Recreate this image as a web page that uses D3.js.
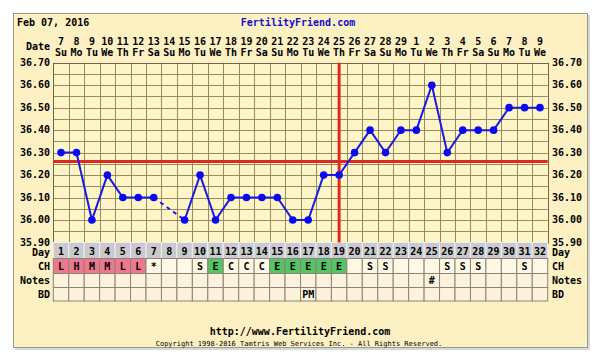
<!DOCTYPE html>
<html><head><meta charset="utf-8">
<script src="https://cdn.jsdelivr.net/npm/d3@7"></script>
<style>
html,body{margin:0;padding:0;background:#fff;}
svg{display:block;font-family:"DejaVu Sans Mono",monospace;font-weight:bold;}
</style></head>
<body><svg id="c" width="600" height="357"></svg>
<script>
const days = d3.range(1, 33);
const dateNums = [7,8,9,10,11,12,13,14,15,16,17,18,19,20,21,22,23,24,25,26,27,28,29,1,2,3,4,5,6,7,8,9];
const weekdays = ["Su","Mo","Tu","We","Th","Fr","Sa","Su","Mo","Tu","We","Th","Fr","Sa","Su","Mo","Tu","We","Th","Fr","Sa","Su","Mo","Tu","We","Th","Fr","Sa","Su","Mo","Tu","We"];
const temps = [36.30,36.30,36.00,36.20,36.10,36.10,36.10,null,36.00,36.20,36.00,36.10,36.10,36.10,36.10,36.00,36.00,36.20,36.20,36.30,36.40,36.30,36.40,36.40,36.60,36.30,36.40,36.40,36.40,36.50,36.50,36.50];
const chValues = ["L","H","M","M","L","L","*","","","S","E","C","C","C","E","E","E","E","E","","S","S","","","","S","S","S","","","S",""];
const notesValues = ["","","","","","","","","","","","","","","","","","","","","","","","","#","","","","","","",""];
const bdValues = ["","","","","","","","","","","","","","","","","PM","","","","","","","","","","","","","","",""];
const yTicks = [36.70,36.60,36.50,36.40,36.30,36.20,36.10,36.00,35.90];
const coverline = 36.26;
const ovulationDay = 19;
const headerDate = "Feb 07, 2016";

const svg = d3.select("#c");
const L = 53.3, R = 547.7, T = 62.7, B = 242.5;
const x = d3.scaleBand().domain(days).range([L, R]);
const y = d3.scaleLinear().domain([35.9, 36.7]).range([B, T]);
const cx = d => x(d) + x.bandwidth() / 2;

// panel
svg.append("rect").attr("x", 15).attr("y", 15).attr("width", 575).attr("height", 335).attr("fill", "#d8d8d8");
svg.append("rect").attr("x", 13.5).attr("y", 13.5).attr("width", 574).attr("height", 334)
  .attr("fill", "#fdf1c3").attr("stroke", "#9a9a8a").attr("stroke-width", 1);

// header
svg.append("text").attr("x", 17).attr("y", 26).attr("font-size", 10).attr("fill", "#000").text(headerDate);
svg.append("text").attr("x", 298).attr("y", 26).attr("text-anchor", "middle").attr("font-size", 10).attr("fill", "#1010c8").text("FertilityFriend.com");
svg.append("text").attr("x", 50).attr("y", 50).attr("text-anchor", "end").attr("font-size", 10).text("Date");
svg.selectAll(".dn").data(days).enter().append("text")
  .attr("x", d => cx(d)).attr("y", 45).attr("text-anchor", "middle").attr("font-size", 10)
  .text((d, i) => dateNums[i]);
svg.selectAll(".wd").data(days).enter().append("text")
  .attr("x", d => cx(d)).attr("y", 56).attr("text-anchor", "middle").attr("font-size", 10)
  .text((d, i) => weekdays[i]);

// plot background
svg.append("rect").attr("x", L).attr("y", T).attr("width", R - L).attr("height", B - T).attr("fill", "#fef5c6");

// grid
const gridColor = "#968a66";
const hLines = d3.range(0, 17).map(i => 35.9 + i * 0.05);
svg.selectAll(".hg").data(hLines).enter().append("line")
  .attr("x1", L).attr("x2", R).attr("y1", d => Math.round(y(d)) + 0.5).attr("y2", d => Math.round(y(d)) + 0.5)
  .attr("stroke", gridColor).attr("stroke-width", 1);
const vEdges = days.map(d => x(d)).concat([R]);
svg.selectAll(".vg").data(vEdges).enter().append("line")
  .attr("x1", d => Math.round(d) + 0.5).attr("x2", d => Math.round(d) + 0.5).attr("y1", T).attr("y2", B)
  .attr("stroke", gridColor).attr("stroke-width", 1);
svg.append("rect").attr("x", Math.round(L) + 0.5).attr("y", Math.round(T) + 0.5).attr("width", Math.round(R) - Math.round(L)).attr("height", Math.round(B) - Math.round(T))
  .attr("fill", "none").attr("stroke", "#6e6650");

// y tick labels
svg.selectAll(".yl").data(yTicks).enter().append("text")
  .attr("x", 50).attr("y", d => y(d) + 3).attr("text-anchor", "end").attr("font-size", 10).text(d => d.toFixed(2));
svg.selectAll(".yr").data(yTicks).enter().append("text")
  .attr("x", 552).attr("y", d => y(d) + 3).attr("text-anchor", "start").attr("font-size", 10).text(d => d.toFixed(2));

// bottom rows
const rows = [
  {label: "Day", y0: 242.5, y1: 258.5, ly: 256},
  {label: "CH", y0: 258.5, y1: 273.5, ly: 270},
  {label: "Notes", y0: 273.5, y1: 287.5, ly: 284},
  {label: "BD", y0: 287.5, y1: 301, ly: 298}
];
// day row
svg.selectAll(".dayc").data(days).enter().append("rect")
  .attr("x", d => x(d)).attr("y", rows[0].y0).attr("width", x.bandwidth()).attr("height", rows[0].y1 - rows[0].y0)
  .attr("fill", "#c9c9cf").attr("stroke", "#eeeeee").attr("stroke-width", 1);
svg.selectAll(".dayt").data(days).enter().append("text")
  .attr("x", d => cx(d)).attr("y", rows[0].y1 - 4).attr("text-anchor", "middle").attr("font-size", 10).text(d => d);
const chColor = v => (v === "L" || v === "H" || v === "M") ? "#f0788e" : (v === "E" ? "#55c464" : "#fff8e4");
svg.selectAll(".chc").data(days).enter().append("rect")
  .attr("x", d => x(d)).attr("y", rows[1].y0).attr("width", x.bandwidth()).attr("height", rows[1].y1 - rows[1].y0)
  .attr("fill", (d, i) => chColor(chValues[i])).attr("stroke", "#8a8478").attr("stroke-width", 1);
svg.selectAll(".cht").data(days).enter().append("text")
  .attr("x", d => cx(d)).attr("y", rows[1].y1 - 4).attr("text-anchor", "middle").attr("font-size", 10).text((d, i) => chValues[i]);
[[rows[2], notesValues], [rows[3], bdValues]].forEach(([r, vals]) => {
  svg.append("g").selectAll("rect").data(days).enter().append("rect")
    .attr("x", d => x(d)).attr("y", r.y0).attr("width", x.bandwidth()).attr("height", r.y1 - r.y0)
    .attr("fill", "#fdf3dc").attr("stroke", "#8a8478").attr("stroke-width", 1);
  svg.append("g").selectAll("text").data(days).enter().append("text")
    .attr("x", d => cx(d)).attr("y", r.y1 - 3.5).attr("text-anchor", "middle").attr("font-size", 10).text((d, i) => vals[i]);
});
rows.forEach(r => {
  svg.append("text").attr("x", 50).attr("y", r.ly).attr("text-anchor", "end").attr("font-size", 10).text(r.label);
  svg.append("text").attr("x", 552).attr("y", r.ly).attr("text-anchor", "start").attr("font-size", 10).text(r.label);
});

// coverline and ovulation line
svg.append("line").attr("x1", L).attr("x2", R).attr("y1", y(coverline)).attr("y2", y(coverline))
  .attr("stroke", "#dc2a22").attr("stroke-width", 3);
svg.append("line").attr("x1", cx(ovulationDay)).attr("x2", cx(ovulationDay)).attr("y1", T).attr("y2", B)
  .attr("stroke", "#dc2a22").attr("stroke-width", 3);

// temperature line
const pts = days.map((d, i) => ({d, t: temps[i]}));
const valid = pts.filter(p => p.t !== null);
const line = d3.line().x(p => cx(p.d)).y(p => y(p.t)).defined(p => p.t !== null);
svg.append("path").datum(pts).attr("d", line).attr("fill", "none").attr("stroke", "#1a1ae0").attr("stroke-width", 2);
// dashed over gaps
for (let i = 0; i < pts.length; i++) {
  if (pts[i].t === null) {
    let a = i - 1, b = i + 1;
    while (b < pts.length && pts[b].t === null) b++;
    if (a >= 0 && b < pts.length) {
      svg.append("line").attr("x1", cx(pts[a].d)).attr("y1", y(pts[a].t)).attr("x2", cx(pts[b].d)).attr("y2", y(pts[b].t))
        .attr("stroke", "#1a1ae0").attr("stroke-width", 2).attr("stroke-dasharray", "4,4");
    }
  }
}
svg.selectAll(".pt").data(valid).enter().append("circle")
  .attr("cx", p => cx(p.d)).attr("cy", p => y(p.t)).attr("r", 3.8).attr("fill", "#0a0af0");

// footer
svg.append("text").attr("x", 300).attr("y", 335).attr("text-anchor", "middle").attr("font-size", 10).text("http://www.FertilityFriend.com");
svg.append("text").attr("x", 299).attr("y", 345.5).attr("text-anchor", "middle").attr("font-size", 7).attr("font-weight", "normal").text("Copyright 1998-2016 Tamtris Web Services Inc. - All Rights Reserved.");
</script></body></html>
